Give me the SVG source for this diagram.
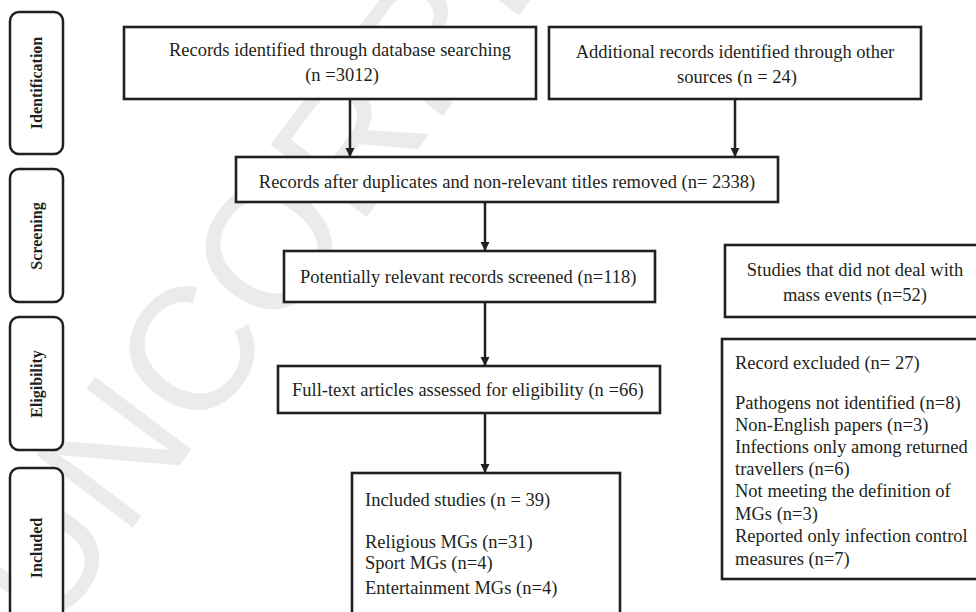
<svg xmlns="http://www.w3.org/2000/svg" width="976" height="612" viewBox="0 0 976 612">
<defs>
<style>
.bg{fill:#ffffff}
.wm{font-family:"Liberation Sans",Arial,sans-serif;font-size:175px;fill:#ebebeb}
.phase{fill:#ffffff;stroke:#231f20;stroke-width:2.5}
.ph{font-family:"Liberation Serif","Times New Roman",serif;font-weight:bold;font-size:16px;fill:#231f20;text-anchor:middle}
.box{fill:#ffffff;stroke:#231f20;stroke-width:2.6}
.t{font-family:"Liberation Serif","Times New Roman",serif;font-size:18.5px;fill:#231f20}
.c{text-anchor:middle}
.conn{stroke:#231f20;stroke-width:2.5;fill:none;marker-end:url(#ah)}
</style>
<marker id="ah" viewBox="0 0 10 10" refX="10" refY="5" markerWidth="9" markerHeight="10" markerUnits="userSpaceOnUse" orient="auto">
<path d="M0,0 L10,5 L0,10 z" fill="#231f20"/>
</marker>
</defs>
<rect class="bg" x="0" y="0" width="976" height="612"/>
<text class="wm" transform="translate(48,640) rotate(-53)">UNCORRECTED PROOF</text>

<g id="phase-identification">
<rect class="phase" x="10" y="12" width="53" height="142" rx="9"/>
<text class="ph" transform="translate(42,83) rotate(-90)">Identification</text>
</g>
<g id="phase-screening">
<rect class="phase" x="10" y="169" width="53" height="133" rx="9"/>
<text class="ph" transform="translate(42,236) rotate(-90)">Screening</text>
</g>
<g id="phase-eligibility">
<rect class="phase" x="10" y="317" width="53" height="133" rx="9"/>
<text class="ph" transform="translate(42,384) rotate(-90)">Eligibility</text>
</g>
<g id="phase-included">
<rect class="phase" x="10" y="468" width="53" height="170" rx="9"/>
<text class="ph" transform="translate(42,548) rotate(-90)">Included</text>
</g>

<g id="connectors">
<line class="conn" x1="350" y1="99" x2="350" y2="157"/>
<line class="conn" x1="735" y1="99" x2="735" y2="157"/>
<line class="conn" x1="485" y1="202" x2="485" y2="251"/>
<line class="conn" x1="485" y1="302" x2="485" y2="366"/>
<line class="conn" x1="485" y1="413" x2="485" y2="473"/>
</g>

<g id="db-search">
<rect class="box" x="124" y="27" width="412" height="72"/>
<text class="t c" x="340" y="56">Records identified through database searching</text>
<text class="t c" x="342" y="81">(n =3012)</text>
</g>
<g id="other-sources">
<rect class="box" x="549" y="27" width="372" height="72"/>
<text class="t c" x="735" y="58">Additional records identified through other</text>
<text class="t c" x="737" y="83">sources (n = 24)</text>
</g>
<g id="after-duplicates">
<rect class="box" x="236" y="157" width="542" height="45"/>
<text class="t c" x="507" y="188">Records after duplicates and non-relevant titles removed (n= 2338)</text>
</g>
<g id="screened">
<rect class="box" x="284" y="251" width="371" height="51"/>
<text class="t" x="300" y="283">Potentially relevant records screened (n=118)</text>
</g>
<g id="not-mass-events">
<rect class="box" x="725" y="245" width="270" height="72"/>
<text class="t c" x="855" y="276">Studies that did not deal with</text>
<text class="t c" x="855" y="301">mass events (n=52)</text>
</g>
<g id="full-text">
<rect class="box" x="278" y="366" width="382" height="47"/>
<text class="t" x="292" y="396">Full-text articles assessed for eligibility (n =66)</text>
</g>
<g id="excluded">
<rect class="box" x="722" y="339" width="270" height="240"/>
<text class="t" x="735" y="369">Record excluded (n= 27)</text>
<text class="t" x="735" y="409">Pathogens not identified (n=8)</text>
<text class="t" x="735" y="431">Non-English papers (n=3)</text>
<text class="t" x="735" y="453">Infections only among returned</text>
<text class="t" x="735" y="475">travellers (n=6)</text>
<text class="t" x="735" y="497">Not meeting the definition of</text>
<text class="t" x="735" y="520">MGs (n=3)</text>
<text class="t" x="735" y="542">Reported only infection control</text>
<text class="t" x="735" y="565">measures (n=7)</text>
</g>
<g id="included-studies">
<rect class="box" x="352" y="473" width="268" height="160"/>
<text class="t" x="365" y="506">Included studies (n = 39)</text>
<text class="t" x="365" y="548">Religious MGs (n=31)</text>
<text class="t" x="365" y="569">Sport MGs (n=4)</text>
<text class="t" x="365" y="594">Entertainment MGs (n=4)</text>
</g>
</svg>
